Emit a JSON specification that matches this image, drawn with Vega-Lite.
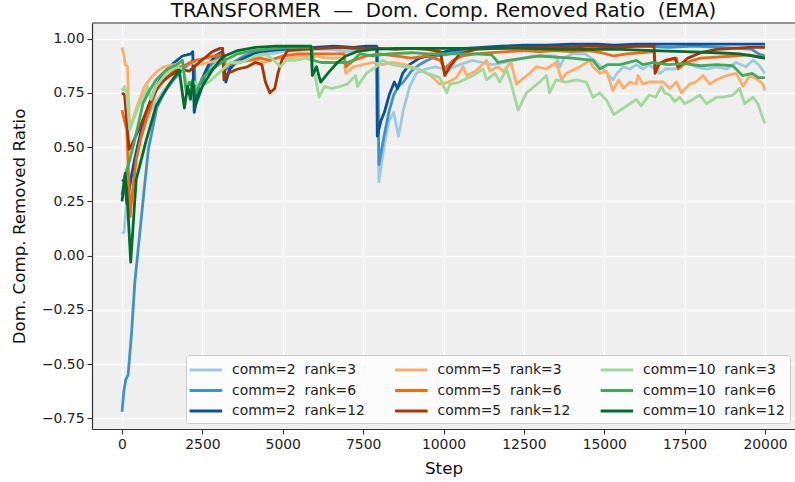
{
"$schema": "https://vega.github.io/schema/vega-lite/v6.json",
"width": 703, "height": 406,
"autosize": {"type": "none"},
"padding": {"left": 92, "top": 23, "right": 0, "bottom": 53},
"background": "white",
"config": {
  "font": "DejaVu Sans",
  "view": {"stroke": null, "fill": "#efefef"},
  "axis": {"domainColor": "#333", "domainWidth": 1.2, "tickColor": "#333", "tickSize": 5, "tickWidth": 1.1,
    "labelFont": "DejaVu Sans", "labelFontSize": 13.9, "labelColor": "#222", "labelPadding": 3,
    "titleFont": "DejaVu Sans", "titleFontSize": 16.7, "titleFontWeight": "normal", "titleColor": "#111",
    "gridColor": "#ffffff", "gridWidth": 1.3}
},
"title": {"text": "TRANSFORMER\u00a0 —\u00a0 Dom. Comp. Removed Ratio\u00a0 (EMA)", "fontSize": 19.8, "font": "DejaVu Sans", "fontWeight": "normal", "color": "#111", "offset": 2},
"layer": [
{
"data": {"values": [
{"s":"2_3","x":0,"y":0.10},{"s":"2_3","x":60,"y":0.11},{"s":"2_3","x":150,"y":0.25},{"s":"2_3","x":300,"y":0.38},{"s":"2_3","x":500,"y":0.50},{"s":"2_3","x":700,"y":0.60},{"s":"2_3","x":900,"y":0.67},{"s":"2_3","x":1100,"y":0.72},{"s":"2_3","x":1400,"y":0.78},{"s":"2_3","x":1700,"y":0.83},{"s":"2_3","x":2000,"y":0.87},{"s":"2_3","x":2200,"y":0.89},{"s":"2_3","x":2280,"y":0.72},{"s":"2_3","x":2400,"y":0.78},{"s":"2_3","x":2600,"y":0.85},{"s":"2_3","x":2900,"y":0.89},{"s":"2_3","x":3200,"y":0.91},{"s":"2_3","x":3300,"y":0.84},{"s":"2_3","x":3500,"y":0.88},{"s":"2_3","x":3800,"y":0.90},{"s":"2_3","x":4200,"y":0.92},{"s":"2_3","x":4600,"y":0.93},{"s":"2_3","x":5000,"y":0.94},{"s":"2_3","x":5500,"y":0.945},{"s":"2_3","x":6000,"y":0.95},{"s":"2_3","x":6500,"y":0.95},{"s":"2_3","x":7000,"y":0.94},{"s":"2_3","x":7300,"y":0.95},{"s":"2_3","x":7700,"y":0.955},{"s":"2_3","x":7950,"y":0.955},{"s":"2_3","x":7990,"y":0.34},{"s":"2_3","x":8150,"y":0.50},{"s":"2_3","x":8300,"y":0.62},{"s":"2_3","x":8450,"y":0.66},{"s":"2_3","x":8600,"y":0.55},{"s":"2_3","x":8750,"y":0.67},{"s":"2_3","x":8950,"y":0.78},{"s":"2_3","x":9150,"y":0.84},{"s":"2_3","x":9450,"y":0.86},{"s":"2_3","x":9750,"y":0.87},{"s":"2_3","x":10000,"y":0.86},{"s":"2_3","x":10200,"y":0.86},{"s":"2_3","x":10500,"y":0.88},{"s":"2_3","x":10900,"y":0.90},{"s":"2_3","x":11200,"y":0.89},{"s":"2_3","x":11500,"y":0.88},{"s":"2_3","x":11900,"y":0.89},{"s":"2_3","x":12200,"y":0.90},{"s":"2_3","x":12500,"y":0.91},{"s":"2_3","x":12800,"y":0.92},{"s":"2_3","x":13200,"y":0.92},{"s":"2_3","x":13500,"y":0.92},{"s":"2_3","x":13620,"y":0.87},{"s":"2_3","x":13750,"y":0.91},{"s":"2_3","x":14000,"y":0.93},{"s":"2_3","x":14400,"y":0.93},{"s":"2_3","x":14700,"y":0.90},{"s":"2_3","x":14960,"y":0.86},{"s":"2_3","x":15270,"y":0.81},{"s":"2_3","x":15400,"y":0.84},{"s":"2_3","x":15600,"y":0.87},{"s":"2_3","x":15800,"y":0.86},{"s":"2_3","x":16000,"y":0.88},{"s":"2_3","x":16200,"y":0.86},{"s":"2_3","x":16400,"y":0.88},{"s":"2_3","x":16730,"y":0.84},{"s":"2_3","x":16900,"y":0.86},{"s":"2_3","x":17200,"y":0.86},{"s":"2_3","x":17550,"y":0.89},{"s":"2_3","x":17850,"y":0.87},{"s":"2_3","x":18200,"y":0.86},{"s":"2_3","x":18500,"y":0.87},{"s":"2_3","x":18800,"y":0.86},{"s":"2_3","x":19100,"y":0.89},{"s":"2_3","x":19400,"y":0.87},{"s":"2_3","x":19630,"y":0.90},{"s":"2_3","x":19800,"y":0.88},{"s":"2_3","x":20000,"y":0.84},

{"s":"2_6","x":0,"y":-0.72},{"s":"2_6","x":60,"y":-0.62},{"s":"2_6","x":120,"y":-0.57},{"s":"2_6","x":190,"y":-0.55},{"s":"2_6","x":300,"y":-0.35},{"s":"2_6","x":400,"y":-0.12},{"s":"2_6","x":550,"y":0.10},{"s":"2_6","x":700,"y":0.32},{"s":"2_6","x":820,"y":0.49},{"s":"2_6","x":1000,"y":0.62},{"s":"2_6","x":1080,"y":0.68},{"s":"2_6","x":1300,"y":0.75},{"s":"2_6","x":1600,"y":0.81},{"s":"2_6","x":1900,"y":0.86},{"s":"2_6","x":2100,"y":0.89},{"s":"2_6","x":2250,"y":0.90},{"s":"2_6","x":2290,"y":0.70},{"s":"2_6","x":2450,"y":0.78},{"s":"2_6","x":2700,"y":0.87},{"s":"2_6","x":2950,"y":0.91},{"s":"2_6","x":3150,"y":0.93},{"s":"2_6","x":3250,"y":0.86},{"s":"2_6","x":3450,"y":0.89},{"s":"2_6","x":3800,"y":0.92},{"s":"2_6","x":4200,"y":0.94},{"s":"2_6","x":4700,"y":0.95},{"s":"2_6","x":5200,"y":0.955},{"s":"2_6","x":5800,"y":0.96},{"s":"2_6","x":6500,"y":0.96},{"s":"2_6","x":7200,"y":0.955},{"s":"2_6","x":7700,"y":0.96},{"s":"2_6","x":7950,"y":0.96},{"s":"2_6","x":7990,"y":0.42},{"s":"2_6","x":8150,"y":0.55},{"s":"2_6","x":8300,"y":0.66},{"s":"2_6","x":8450,"y":0.74},{"s":"2_6","x":8600,"y":0.78},{"s":"2_6","x":8750,"y":0.80},{"s":"2_6","x":9000,"y":0.85},{"s":"2_6","x":9250,"y":0.88},{"s":"2_6","x":9500,"y":0.90},{"s":"2_6","x":9800,"y":0.92},{"s":"2_6","x":10200,"y":0.93},{"s":"2_6","x":10700,"y":0.95},{"s":"2_6","x":11200,"y":0.955},{"s":"2_6","x":11800,"y":0.96},{"s":"2_6","x":12500,"y":0.965},{"s":"2_6","x":13200,"y":0.965},{"s":"2_6","x":14000,"y":0.97},{"s":"2_6","x":14800,"y":0.965},{"s":"2_6","x":15500,"y":0.96},{"s":"2_6","x":16200,"y":0.965},{"s":"2_6","x":17000,"y":0.96},{"s":"2_6","x":17800,"y":0.965},{"s":"2_6","x":18600,"y":0.96},{"s":"2_6","x":19200,"y":0.955},{"s":"2_6","x":19600,"y":0.95},{"s":"2_6","x":19800,"y":0.93},{"s":"2_6","x":20000,"y":0.92},

{"s":"2_12","x":0,"y":0.35},{"s":"2_12","x":80,"y":0.34},{"s":"2_12","x":150,"y":0.24},{"s":"2_12","x":250,"y":0.33},{"s":"2_12","x":400,"y":0.45},{"s":"2_12","x":600,"y":0.58},{"s":"2_12","x":800,"y":0.68},{"s":"2_12","x":1060,"y":0.78},{"s":"2_12","x":1300,"y":0.84},{"s":"2_12","x":1580,"y":0.885},{"s":"2_12","x":1880,"y":0.92},{"s":"2_12","x":2140,"y":0.93},{"s":"2_12","x":2200,"y":0.94},{"s":"2_12","x":2245,"y":0.66},{"s":"2_12","x":2350,"y":0.74},{"s":"2_12","x":2450,"y":0.80},{"s":"2_12","x":2600,"y":0.85},{"s":"2_12","x":2710,"y":0.885},{"s":"2_12","x":2900,"y":0.92},{"s":"2_12","x":3120,"y":0.94},{"s":"2_12","x":3230,"y":0.80},{"s":"2_12","x":3350,"y":0.86},{"s":"2_12","x":3500,"y":0.885},{"s":"2_12","x":3800,"y":0.91},{"s":"2_12","x":4200,"y":0.935},{"s":"2_12","x":4600,"y":0.945},{"s":"2_12","x":5000,"y":0.95},{"s":"2_12","x":5500,"y":0.955},{"s":"2_12","x":6000,"y":0.96},{"s":"2_12","x":6600,"y":0.965},{"s":"2_12","x":7200,"y":0.96},{"s":"2_12","x":7600,"y":0.965},{"s":"2_12","x":7920,"y":0.965},{"s":"2_12","x":7940,"y":0.55},{"s":"2_12","x":8050,"y":0.62},{"s":"2_12","x":8160,"y":0.66},{"s":"2_12","x":8310,"y":0.74},{"s":"2_12","x":8470,"y":0.80},{"s":"2_12","x":8570,"y":0.77},{"s":"2_12","x":8730,"y":0.84},{"s":"2_12","x":8940,"y":0.88},{"s":"2_12","x":9250,"y":0.91},{"s":"2_12","x":9770,"y":0.93},{"s":"2_12","x":10200,"y":0.945},{"s":"2_12","x":10700,"y":0.955},{"s":"2_12","x":11200,"y":0.96},{"s":"2_12","x":11800,"y":0.965},{"s":"2_12","x":12500,"y":0.97},{"s":"2_12","x":13200,"y":0.97},{"s":"2_12","x":14000,"y":0.975},{"s":"2_12","x":14800,"y":0.975},{"s":"2_12","x":15300,"y":0.97},{"s":"2_12","x":16000,"y":0.975},{"s":"2_12","x":17000,"y":0.975},{"s":"2_12","x":18000,"y":0.975},{"s":"2_12","x":19000,"y":0.975},{"s":"2_12","x":20000,"y":0.975},

{"s":"5_3","x":0,"y":0.96},{"s":"5_3","x":50,"y":0.93},{"s":"5_3","x":100,"y":0.88},{"s":"5_3","x":170,"y":0.87},{"s":"5_3","x":230,"y":0.60},{"s":"5_3","x":320,"y":0.62},{"s":"5_3","x":500,"y":0.70},{"s":"5_3","x":700,"y":0.78},{"s":"5_3","x":900,"y":0.82},{"s":"5_3","x":1100,"y":0.85},{"s":"5_3","x":1300,"y":0.87},{"s":"5_3","x":1600,"y":0.88},{"s":"5_3","x":1900,"y":0.87},{"s":"5_3","x":2100,"y":0.89},{"s":"5_3","x":2400,"y":0.88},{"s":"5_3","x":2700,"y":0.89},{"s":"5_3","x":3000,"y":0.90},{"s":"5_3","x":3300,"y":0.88},{"s":"5_3","x":3600,"y":0.89},{"s":"5_3","x":4000,"y":0.90},{"s":"5_3","x":4400,"y":0.89},{"s":"5_3","x":4800,"y":0.91},{"s":"5_3","x":5200,"y":0.91},{"s":"5_3","x":5600,"y":0.92},{"s":"5_3","x":6000,"y":0.92},{"s":"5_3","x":6400,"y":0.91},{"s":"5_3","x":6900,"y":0.91},{"s":"5_3","x":6960,"y":0.84},{"s":"5_3","x":7200,"y":0.87},{"s":"5_3","x":7500,"y":0.88},{"s":"5_3","x":7800,"y":0.89},{"s":"5_3","x":8100,"y":0.88},{"s":"5_3","x":8400,"y":0.89},{"s":"5_3","x":8800,"y":0.88},{"s":"5_3","x":9200,"y":0.86},{"s":"5_3","x":9600,"y":0.83},{"s":"5_3","x":9886,"y":0.79},{"s":"5_3","x":10150,"y":0.80},{"s":"5_3","x":10400,"y":0.82},{"s":"5_3","x":10610,"y":0.87},{"s":"5_3","x":10720,"y":0.83},{"s":"5_3","x":11000,"y":0.85},{"s":"5_3","x":11340,"y":0.90},{"s":"5_3","x":11440,"y":0.85},{"s":"5_3","x":11700,"y":0.87},{"s":"5_3","x":11850,"y":0.85},{"s":"5_3","x":12100,"y":0.89},{"s":"5_3","x":12270,"y":0.79},{"s":"5_3","x":12430,"y":0.81},{"s":"5_3","x":12680,"y":0.84},{"s":"5_3","x":12890,"y":0.87},{"s":"5_3","x":13200,"y":0.86},{"s":"5_3","x":13510,"y":0.89},{"s":"5_3","x":13670,"y":0.81},{"s":"5_3","x":13820,"y":0.84},{"s":"5_3","x":14240,"y":0.87},{"s":"5_3","x":14550,"y":0.90},{"s":"5_3","x":14650,"y":0.87},{"s":"5_3","x":14860,"y":0.84},{"s":"5_3","x":15070,"y":0.85},{"s":"5_3","x":15270,"y":0.76},{"s":"5_3","x":15450,"y":0.81},{"s":"5_3","x":15600,"y":0.77},{"s":"5_3","x":15800,"y":0.80},{"s":"5_3","x":16000,"y":0.79},{"s":"5_3","x":16050,"y":0.83},{"s":"5_3","x":16200,"y":0.79},{"s":"5_3","x":16400,"y":0.80},{"s":"5_3","x":16600,"y":0.80},{"s":"5_3","x":16830,"y":0.80},{"s":"5_3","x":17040,"y":0.77},{"s":"5_3","x":17250,"y":0.80},{"s":"5_3","x":17400,"y":0.75},{"s":"5_3","x":17650,"y":0.79},{"s":"5_3","x":17850,"y":0.80},{"s":"5_3","x":18070,"y":0.83},{"s":"5_3","x":18280,"y":0.79},{"s":"5_3","x":18490,"y":0.81},{"s":"5_3","x":18800,"y":0.83},{"s":"5_3","x":19110,"y":0.84},{"s":"5_3","x":19320,"y":0.78},{"s":"5_3","x":19520,"y":0.83},{"s":"5_3","x":19780,"y":0.81},{"s":"5_3","x":19940,"y":0.79},{"s":"5_3","x":20000,"y":0.76},

{"s":"5_6","x":0,"y":0.67},{"s":"5_6","x":80,"y":0.62},{"s":"5_6","x":150,"y":0.58},{"s":"5_6","x":250,"y":0.18},{"s":"5_6","x":330,"y":0.30},{"s":"5_6","x":440,"y":0.44},{"s":"5_6","x":600,"y":0.55},{"s":"5_6","x":760,"y":0.63},{"s":"5_6","x":1060,"y":0.76},{"s":"5_6","x":1370,"y":0.82},{"s":"5_6","x":1680,"y":0.86},{"s":"5_6","x":2000,"y":0.88},{"s":"5_6","x":2300,"y":0.90},{"s":"5_6","x":2600,"y":0.91},{"s":"5_6","x":2900,"y":0.92},{"s":"5_6","x":3150,"y":0.93},{"s":"5_6","x":3200,"y":0.87},{"s":"5_6","x":3500,"y":0.89},{"s":"5_6","x":3900,"y":0.90},{"s":"5_6","x":4300,"y":0.91},{"s":"5_6","x":4600,"y":0.90},{"s":"5_6","x":5000,"y":0.92},{"s":"5_6","x":5500,"y":0.93},{"s":"5_6","x":6000,"y":0.93},{"s":"5_6","x":6500,"y":0.93},{"s":"5_6","x":6900,"y":0.93},{"s":"5_6","x":6960,"y":0.87},{"s":"5_6","x":7200,"y":0.90},{"s":"5_6","x":7600,"y":0.92},{"s":"5_6","x":8000,"y":0.93},{"s":"5_6","x":8500,"y":0.92},{"s":"5_6","x":9000,"y":0.91},{"s":"5_6","x":9500,"y":0.92},{"s":"5_6","x":9900,"y":0.90},{"s":"5_6","x":10040,"y":0.86},{"s":"5_6","x":10300,"y":0.90},{"s":"5_6","x":10600,"y":0.92},{"s":"5_6","x":11000,"y":0.93},{"s":"5_6","x":11500,"y":0.935},{"s":"5_6","x":12000,"y":0.94},{"s":"5_6","x":12500,"y":0.945},{"s":"5_6","x":13000,"y":0.94},{"s":"5_6","x":13500,"y":0.945},{"s":"5_6","x":14000,"y":0.94},{"s":"5_6","x":14500,"y":0.945},{"s":"5_6","x":14900,"y":0.935},{"s":"5_6","x":15300,"y":0.92},{"s":"5_6","x":15700,"y":0.93},{"s":"5_6","x":16200,"y":0.935},{"s":"5_6","x":16550,"y":0.94},{"s":"5_6","x":16600,"y":0.86},{"s":"5_6","x":16750,"y":0.89},{"s":"5_6","x":17000,"y":0.90},{"s":"5_6","x":17250,"y":0.91},{"s":"5_6","x":17300,"y":0.86},{"s":"5_6","x":17550,"y":0.89},{"s":"5_6","x":18000,"y":0.91},{"s":"5_6","x":18500,"y":0.915},{"s":"5_6","x":19000,"y":0.92},{"s":"5_6","x":19500,"y":0.925},{"s":"5_6","x":20000,"y":0.91},

{"s":"5_12","x":0,"y":0.75},{"s":"5_12","x":80,"y":0.74},{"s":"5_12","x":220,"y":0.49},{"s":"5_12","x":300,"y":0.51},{"s":"5_12","x":550,"y":0.59},{"s":"5_12","x":850,"y":0.70},{"s":"5_12","x":1160,"y":0.79},{"s":"5_12","x":1500,"y":0.83},{"s":"5_12","x":1800,"y":0.86},{"s":"5_12","x":2090,"y":0.85},{"s":"5_12","x":2400,"y":0.89},{"s":"5_12","x":2810,"y":0.94},{"s":"5_12","x":3050,"y":0.955},{"s":"5_12","x":3130,"y":0.955},{"s":"5_12","x":3170,"y":0.81},{"s":"5_12","x":3300,"y":0.84},{"s":"5_12","x":3600,"y":0.86},{"s":"5_12","x":3900,"y":0.87},{"s":"5_12","x":4150,"y":0.89},{"s":"5_12","x":4350,"y":0.88},{"s":"5_12","x":4460,"y":0.80},{"s":"5_12","x":4600,"y":0.75},{"s":"5_12","x":4750,"y":0.77},{"s":"5_12","x":4850,"y":0.84},{"s":"5_12","x":4970,"y":0.90},{"s":"5_12","x":5150,"y":0.945},{"s":"5_12","x":5600,"y":0.95},{"s":"5_12","x":6200,"y":0.955},{"s":"5_12","x":6800,"y":0.96},{"s":"5_12","x":7400,"y":0.955},{"s":"5_12","x":8000,"y":0.955},{"s":"5_12","x":8500,"y":0.95},{"s":"5_12","x":9000,"y":0.955},{"s":"5_12","x":9500,"y":0.95},{"s":"5_12","x":9900,"y":0.94},{"s":"5_12","x":10040,"y":0.83},{"s":"5_12","x":10200,"y":0.87},{"s":"5_12","x":10500,"y":0.93},{"s":"5_12","x":11000,"y":0.95},{"s":"5_12","x":11600,"y":0.955},{"s":"5_12","x":12200,"y":0.96},{"s":"5_12","x":13000,"y":0.96},{"s":"5_12","x":13800,"y":0.96},{"s":"5_12","x":14600,"y":0.965},{"s":"5_12","x":15400,"y":0.96},{"s":"5_12","x":16000,"y":0.965},{"s":"5_12","x":16550,"y":0.965},{"s":"5_12","x":16580,"y":0.84},{"s":"5_12","x":16700,"y":0.88},{"s":"5_12","x":16900,"y":0.90},{"s":"5_12","x":17200,"y":0.91},{"s":"5_12","x":17300,"y":0.87},{"s":"5_12","x":17600,"y":0.91},{"s":"5_12","x":18000,"y":0.935},{"s":"5_12","x":18500,"y":0.95},{"s":"5_12","x":19000,"y":0.955},{"s":"5_12","x":19500,"y":0.96},{"s":"5_12","x":20000,"y":0.96},

{"s":"10_3","x":0,"y":0.76},{"s":"10_3","x":80,"y":0.78},{"s":"10_3","x":150,"y":0.74},{"s":"10_3","x":240,"y":0.58},{"s":"10_3","x":390,"y":0.64},{"s":"10_3","x":550,"y":0.70},{"s":"10_3","x":650,"y":0.72},{"s":"10_3","x":800,"y":0.78},{"s":"10_3","x":900,"y":0.72},{"s":"10_3","x":1060,"y":0.78},{"s":"10_3","x":1370,"y":0.84},{"s":"10_3","x":1680,"y":0.87},{"s":"10_3","x":1900,"y":0.86},{"s":"10_3","x":2080,"y":0.75},{"s":"10_3","x":2250,"y":0.80},{"s":"10_3","x":2450,"y":0.78},{"s":"10_3","x":2700,"y":0.80},{"s":"10_3","x":3000,"y":0.84},{"s":"10_3","x":3360,"y":0.89},{"s":"10_3","x":3700,"y":0.89},{"s":"10_3","x":4120,"y":0.92},{"s":"10_3","x":4400,"y":0.93},{"s":"10_3","x":4650,"y":0.91},{"s":"10_3","x":4930,"y":0.87},{"s":"10_3","x":5100,"y":0.90},{"s":"10_3","x":5400,"y":0.90},{"s":"10_3","x":5700,"y":0.91},{"s":"10_3","x":5920,"y":0.90},{"s":"10_3","x":6130,"y":0.73},{"s":"10_3","x":6300,"y":0.78},{"s":"10_3","x":6500,"y":0.77},{"s":"10_3","x":6800,"y":0.78},{"s":"10_3","x":7000,"y":0.79},{"s":"10_3","x":7270,"y":0.83},{"s":"10_3","x":7320,"y":0.78},{"s":"10_3","x":7600,"y":0.84},{"s":"10_3","x":7900,"y":0.87},{"s":"10_3","x":8100,"y":0.90},{"s":"10_3","x":8400,"y":0.88},{"s":"10_3","x":8800,"y":0.87},{"s":"10_3","x":9200,"y":0.86},{"s":"10_3","x":9500,"y":0.84},{"s":"10_3","x":9886,"y":0.82},{"s":"10_3","x":10100,"y":0.75},{"s":"10_3","x":10200,"y":0.79},{"s":"10_3","x":10500,"y":0.80},{"s":"10_3","x":10920,"y":0.83},{"s":"10_3","x":11230,"y":0.86},{"s":"10_3","x":11340,"y":0.81},{"s":"10_3","x":11600,"y":0.84},{"s":"10_3","x":11750,"y":0.80},{"s":"10_3","x":11960,"y":0.86},{"s":"10_3","x":12110,"y":0.79},{"s":"10_3","x":12320,"y":0.67},{"s":"10_3","x":12420,"y":0.70},{"s":"10_3","x":12580,"y":0.75},{"s":"10_3","x":12990,"y":0.80},{"s":"10_3","x":13200,"y":0.83},{"s":"10_3","x":13300,"y":0.75},{"s":"10_3","x":13500,"y":0.81},{"s":"10_3","x":13820,"y":0.80},{"s":"10_3","x":14130,"y":0.81},{"s":"10_3","x":14440,"y":0.80},{"s":"10_3","x":14650,"y":0.73},{"s":"10_3","x":14860,"y":0.75},{"s":"10_3","x":15100,"y":0.71},{"s":"10_3","x":15300,"y":0.65},{"s":"10_3","x":15500,"y":0.67},{"s":"10_3","x":15800,"y":0.70},{"s":"10_3","x":16000,"y":0.72},{"s":"10_3","x":16150,"y":0.69},{"s":"10_3","x":16400,"y":0.74},{"s":"10_3","x":16600,"y":0.73},{"s":"10_3","x":16780,"y":0.78},{"s":"10_3","x":16880,"y":0.75},{"s":"10_3","x":17040,"y":0.74},{"s":"10_3","x":17190,"y":0.71},{"s":"10_3","x":17350,"y":0.73},{"s":"10_3","x":17500,"y":0.70},{"s":"10_3","x":17760,"y":0.72},{"s":"10_3","x":17970,"y":0.74},{"s":"10_3","x":18180,"y":0.70},{"s":"10_3","x":18490,"y":0.73},{"s":"10_3","x":18700,"y":0.73},{"s":"10_3","x":19000,"y":0.74},{"s":"10_3","x":19210,"y":0.77},{"s":"10_3","x":19370,"y":0.70},{"s":"10_3","x":19630,"y":0.73},{"s":"10_3","x":19780,"y":0.70},{"s":"10_3","x":19940,"y":0.63},{"s":"10_3","x":20000,"y":0.61},

{"s":"10_6","x":0,"y":0.28},{"s":"10_6","x":80,"y":0.36},{"s":"10_6","x":200,"y":0.42},{"s":"10_6","x":340,"y":0.50},{"s":"10_6","x":500,"y":0.60},{"s":"10_6","x":650,"y":0.70},{"s":"10_6","x":850,"y":0.76},{"s":"10_6","x":1060,"y":0.81},{"s":"10_6","x":1400,"y":0.86},{"s":"10_6","x":1700,"y":0.88},{"s":"10_6","x":1880,"y":0.90},{"s":"10_6","x":1990,"y":0.76},{"s":"10_6","x":2100,"y":0.80},{"s":"10_6","x":2300,"y":0.75},{"s":"10_6","x":2500,"y":0.82},{"s":"10_6","x":2800,"y":0.86},{"s":"10_6","x":3200,"y":0.90},{"s":"10_6","x":3600,"y":0.93},{"s":"10_6","x":4100,"y":0.945},{"s":"10_6","x":4800,"y":0.955},{"s":"10_6","x":5500,"y":0.96},{"s":"10_6","x":5900,"y":0.96},{"s":"10_6","x":5950,"y":0.90},{"s":"10_6","x":6200,"y":0.89},{"s":"10_6","x":6600,"y":0.89},{"s":"10_6","x":7000,"y":0.89},{"s":"10_6","x":7200,"y":0.90},{"s":"10_6","x":7400,"y":0.93},{"s":"10_6","x":7800,"y":0.92},{"s":"10_6","x":8300,"y":0.93},{"s":"10_6","x":9000,"y":0.935},{"s":"10_6","x":9500,"y":0.93},{"s":"10_6","x":10000,"y":0.93},{"s":"10_6","x":10500,"y":0.93},{"s":"10_6","x":11000,"y":0.93},{"s":"10_6","x":11500,"y":0.925},{"s":"10_6","x":11700,"y":0.89},{"s":"10_6","x":12000,"y":0.90},{"s":"10_6","x":12500,"y":0.91},{"s":"10_6","x":13000,"y":0.92},{"s":"10_6","x":13500,"y":0.915},{"s":"10_6","x":14000,"y":0.91},{"s":"10_6","x":14650,"y":0.90},{"s":"10_6","x":14860,"y":0.86},{"s":"10_6","x":15100,"y":0.88},{"s":"10_6","x":15500,"y":0.88},{"s":"10_6","x":16000,"y":0.90},{"s":"10_6","x":16200,"y":0.88},{"s":"10_6","x":16500,"y":0.89},{"s":"10_6","x":17000,"y":0.88},{"s":"10_6","x":17500,"y":0.885},{"s":"10_6","x":18000,"y":0.875},{"s":"10_6","x":18500,"y":0.88},{"s":"10_6","x":19000,"y":0.875},{"s":"10_6","x":19300,"y":0.83},{"s":"10_6","x":19600,"y":0.84},{"s":"10_6","x":19800,"y":0.82},{"s":"10_6","x":20000,"y":0.82},

{"s":"10_12","x":0,"y":0.25},{"s":"10_12","x":100,"y":0.38},{"s":"10_12","x":150,"y":0.30},{"s":"10_12","x":270,"y":-0.03},{"s":"10_12","x":440,"y":0.35},{"s":"10_12","x":750,"y":0.53},{"s":"10_12","x":1060,"y":0.69},{"s":"10_12","x":1470,"y":0.79},{"s":"10_12","x":1780,"y":0.855},{"s":"10_12","x":1940,"y":0.68},{"s":"10_12","x":2040,"y":0.78},{"s":"10_12","x":2130,"y":0.72},{"s":"10_12","x":2200,"y":0.81},{"s":"10_12","x":2280,"y":0.69},{"s":"10_12","x":2500,"y":0.78},{"s":"10_12","x":2810,"y":0.855},{"s":"10_12","x":3120,"y":0.915},{"s":"10_12","x":3600,"y":0.945},{"s":"10_12","x":4150,"y":0.96},{"s":"10_12","x":4800,"y":0.965},{"s":"10_12","x":5500,"y":0.965},{"s":"10_12","x":5880,"y":0.965},{"s":"10_12","x":5920,"y":0.83},{"s":"10_12","x":6050,"y":0.87},{"s":"10_12","x":6180,"y":0.80},{"s":"10_12","x":6400,"y":0.84},{"s":"10_12","x":6700,"y":0.89},{"s":"10_12","x":6960,"y":0.92},{"s":"10_12","x":7300,"y":0.94},{"s":"10_12","x":7800,"y":0.95},{"s":"10_12","x":8500,"y":0.955},{"s":"10_12","x":9500,"y":0.955},{"s":"10_12","x":10500,"y":0.955},{"s":"10_12","x":11500,"y":0.955},{"s":"10_12","x":12500,"y":0.955},{"s":"10_12","x":13500,"y":0.95},{"s":"10_12","x":14500,"y":0.95},{"s":"10_12","x":15500,"y":0.95},{"s":"10_12","x":16500,"y":0.945},{"s":"10_12","x":17500,"y":0.94},{"s":"10_12","x":18500,"y":0.935},{"s":"10_12","x":19200,"y":0.93},{"s":"10_12","x":19600,"y":0.92},{"s":"10_12","x":20000,"y":0.91}
]},
"mark": {"type": "line", "strokeWidth": 2.8, "strokeJoin": "round"},
"encoding": {
  "x": {"field": "x", "type": "quantitative", "scale": {"domain": [-934, 20934], "nice": false, "zero": false},
        "axis": {"title": "Step", "values": [0,2500,5000,7500,10000,12500,15000,17500,20000], "format": "d", "titlePadding": 10}},
  "y": {"field": "y", "type": "quantitative", "scale": {"domain": [-0.799, 1.072], "nice": false, "zero": false},
        "axis": {"title": "Dom. Comp. Removed Ratio", "values": [-0.75,-0.5,-0.25,0,0.25,0.5,0.75,1.0], "format": ".2f", "titlePadding": 13}},
  "color": {"field": "s", "type": "nominal",
    "scale": {"domain": ["2_3","2_6","2_12","5_3","5_6","5_12","10_3","10_6","10_12"],
              "range": ["#9ecae1","#4292c6","#08519c","#fdae6b","#f16913","#a63603","#a1d99b","#41ab5d","#006d2c"]},
    "legend": {"title": null, "orient": "none", "legendX": 94, "legendY": 332, "columns": 3,
      "symbolType": "M-1.4,0H2.6", "symbolSize": 264, "symbolStrokeWidth": 3,
      "labelFont": "DejaVu Sans", "labelFontSize": 13.9, "labelColor": "#222", "labelOffset": 21, "labelLimit": 0,
      "columnPadding": 23.5, "rowPadding": 3.5, "padding": 5,
      "fillColor": "#fcfcfc", "strokeColor": "#cccccc", "cornerRadius": 3,
      "labelExpr": "'comm=' + split(datum.label, '_')[0] + '\u00a0\u00a0rank=' + split(datum.label, '_')[1]"}}
}
},
{
"data": {"values": [{}]},
"mark": {"type": "rule", "color": "#333", "strokeWidth": 1.2},
"encoding": {"y": {"datum": 1.072, "type": "quantitative"}}
}
]
}
